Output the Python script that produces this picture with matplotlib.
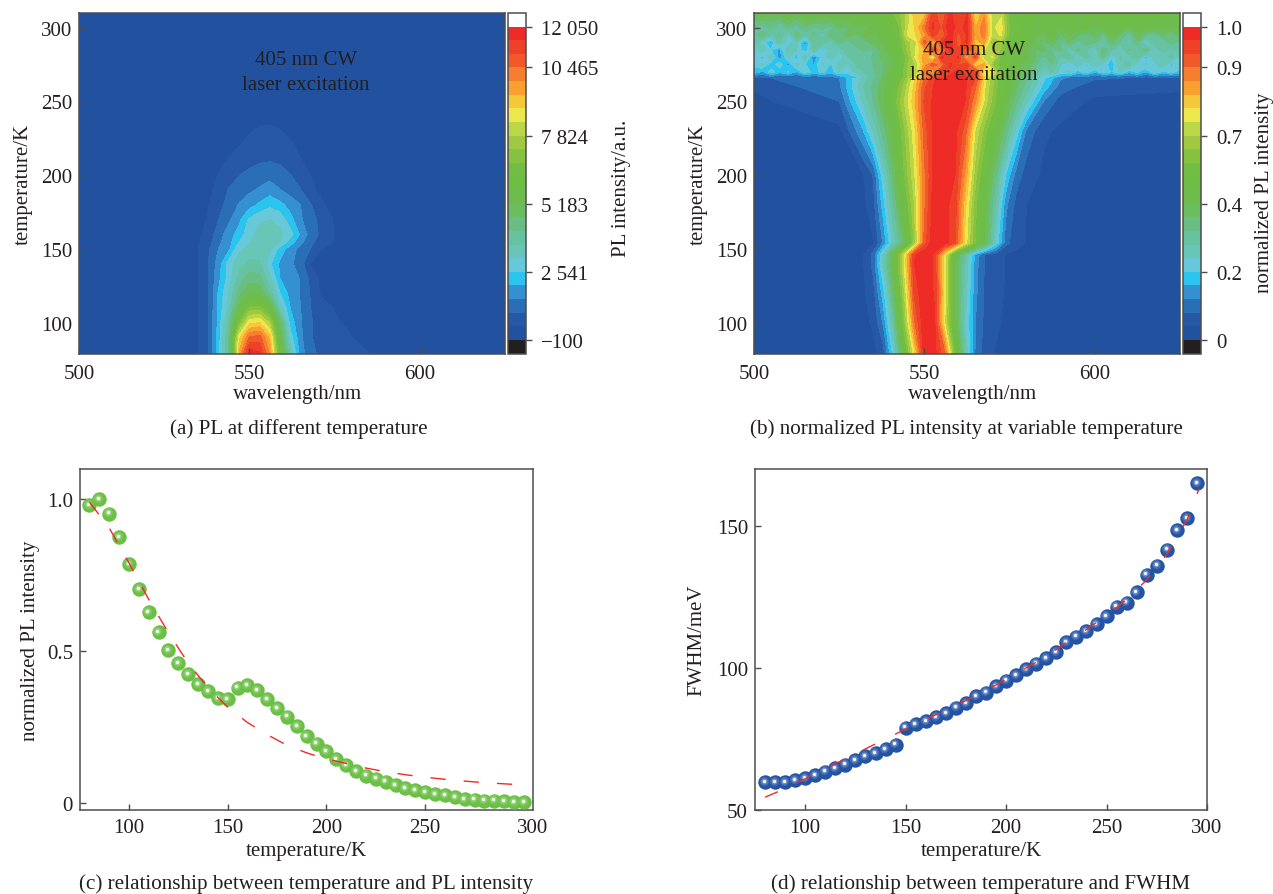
import numpy as np
import matplotlib
matplotlib.use('Agg')
import matplotlib.pyplot as plt
from matplotlib.transforms import offset_copy, ScaledTranslation

plt.rcParams['font.family'] = ['Liberation Serif', 'DejaVu Serif']
plt.rcParams['font.size'] = 15
plt.rcParams['text.color'] = '#231f20'
plt.rcParams['axes.labelcolor'] = '#231f20'
plt.rcParams['xtick.labelcolor'] = '#231f20'
plt.rcParams['ytick.labelcolor'] = '#231f20'

W, H = 1273, 895

# colour bands, bottom to top
band_colors = ['#22529f', '#2658a5', '#2a6fb5', '#3490d0', '#2ac4ee', '#66c8d8',
               '#67c6b8', '#66c2a0', '#69be83', '#6bbd60', '#6ebd4c', '#6ebd45',
               '#72bd44', '#84c240', '#a0c840', '#bbd647', '#ece84b', '#f5c83c',
               '#f9a02e', '#f57f2f', '#f2592a', '#ef4028', '#ee2b27']

# panel (a): PL intensity, rows = temperature, columns = wavelength
lam_a = [500, 530, 535, 538, 541, 544, 547, 550, 553, 556, 559, 562, 565, 568, 571, 575, 580, 590, 625]
temp_a = [79, 90, 100, 110, 120, 130, 140, 150, 155, 160, 170, 180, 190, 200, 210, 220, 230, 240, 310]
pl_a = [
    [100, 200, 428, 957, 2350, 4100, 9500, 11900, 11600, 9850, 6000, 3500, 1750, 1080, 850, 680, 510, 350, 200],
    [100, 200, 428, 957, 2300, 4200, 8700, 10500, 10700, 9200, 5400, 2800, 1600, 990, 800, 600, 430, 300, 180],
    [100, 200, 428, 957, 2200, 3900, 6800, 8700, 8900, 7700, 4800, 2300, 1550, 1000, 750, 480, 350, 250, 150],
    [100, 190, 428, 957, 2150, 3300, 5300, 6900, 7000, 5700, 3300, 2000, 1485, 957, 700, 400, 300, 220, 130],
    [90, 180, 428, 957, 2100, 3100, 4400, 5200, 5100, 3950, 2541, 1800, 1450, 900, 330, 350, 260, 200, 120],
    [80, 170, 400, 957, 1860, 2800, 3800, 4400, 4350, 3200, 2000, 1700, 1450, 800, 300, 250, 200, 170, 110],
    [70, 150, 400, 950, 1750, 2800, 3400, 3750, 3650, 2650, 1900, 1600, 1200, 400, 280, 220, 180, 150, 100],
    [60, 130, 428, 900, 1500, 1900, 2950, 3250, 3350, 3200, 2300, 1750, 1300, 940, 450, 260, 180, 140, 90],
    [55, 120, 380, 700, 1350, 1800, 2500, 3000, 3350, 3500, 3080, 2350, 1650, 1100, 700, 410, 180, 130, 85],
    [50, 110, 330, 600, 1250, 1750, 2230, 2900, 3300, 3610, 3200, 2750, 1900, 1250, 850, 410, 180, 120, 80],
    [40, 90, 250, 470, 957, 1380, 1880, 2620, 2950, 3080, 2900, 2200, 1550, 1150, 800, 360, 150, 100, 70],
    [35, 70, 180, 400, 800, 1120, 1530, 1800, 2100, 2400, 2150, 1800, 1485, 990, 500, 250, 120, 80, 60],
    [30, 60, 150, 300, 600, 1000, 1200, 1380, 1550, 1750, 1500, 1250, 970, 520, 330, 170, 90, 60, 50],
    [25, 50, 120, 250, 450, 680, 940, 1100, 1250, 1300, 1200, 980, 700, 420, 250, 130, 70, 50, 40],
    [20, 40, 90, 170, 300, 460, 620, 780, 880, 920, 850, 650, 440, 280, 170, 90, 50, 40, 30],
    [20, 30, 60, 110, 200, 310, 420, 530, 610, 650, 590, 480, 350, 200, 120, 60, 40, 30, 25],
    [15, 25, 45, 70, 130, 200, 290, 400, 470, 480, 440, 340, 230, 130, 80, 45, 30, 25, 20],
    [10, 20, 30, 50, 90, 140, 190, 250, 320, 350, 300, 240, 150, 90, 50, 30, 20, 15, 10],
    [0, 0, 5, 5, 10, 10, 15, 15, 20, 20, 20, 15, 15, 10, 10, 5, 5, 0, 0],
]
levels_a = [-100 + k * (12050 + 100) / 23 for k in range(24)]
ticks_a = [-100, 2541, 5183, 7824, 10465, 12050]
ticklabels_a = ['\u2212100', '2 541', '5 183', '7 824', '10 465', '12 050']

# panel (b): normalized PL, lower part (below about 267 K)
lam_b = [500, 525, 532, 535, 538, 541, 544, 547, 550, 553, 556, 559, 562, 565, 568, 571, 574, 577, 580, 585, 590, 600, 625]
temp_b = [79, 100, 120, 140, 146, 154, 180, 200, 230, 250, 260, 267]
norm_b = [
    [.01, .01, .015, .03, .07, .24, .489, .72, .985, .971, .874, .542, .30, .12, .06, .04, .03, .025, .02, .02, .015, .01, .01],
    [.01, .015, .03, .05, .14, .33, .587, .858, 1.0, .964, .693, .453, .26, .13, .07, .05, .035, .03, .025, .02, .015, .01, .01],
    [.01, .015, .035, .07, .20, .40, .64, .92, 1.0, .949, .72, .444, .28, .14, .075, .055, .04, .03, .025, .02, .015, .01, .01],
    [.015, .02, .04, .10, .28, .471, .693, .956, 1.0, .942, .711, .444, .30, .15, .075, .06, .04, .03, .025, .02, .015, .01, .01],
    [.015, .02, .04, .10, .27, .462, .684, .949, 1.0, .942, .72, .453, .31, .16, .08, .06, .04, .03, .025, .02, .015, .01, .01],
    [.015, .02, .025, .04, .14, .28, .40, .613, .889, 1.0, .978, .92, .72, .56, .418, .25, .10, .06, .04, .03, .02, .015, .01],
    [.015, .02, .03, .07, .20, .35, .507, .649, .858, 1.0, .971, .935, .751, .578, .444, .30, .14, .07, .043, .03, .02, .015, .01],
    [.015, .02, .04, .09, .25, .40, .56, .684, .858, .978, 1.0, .956, .812, .622, .489, .36, .21, .11, .065, .035, .025, .02, .015],
    [.02, .03, .17, .27, .37, .471, .596, .72, .889, .978, 1.0, .971, .889, .684, .578, .471, .37, .24, .12, .05, .035, .025, .02],
    [.03, .087, .27, .35, .43, .533, .649, .766, .92, .971, 1.0, .985, .956, .828, .667, .56, .453, .36, .27, .13, .065, .035, .03],
    [.05, .12, .30, .36, .42, .516, .622, .751, .905, .964, 1.0, .985, .964, .874, .684, .578, .48, .40, .33, .20, .11, .06, .05],
    [.08, .13, .28, .33, .40, .48, .578, .72, .858, .949, .978, .978, .964, .928, .711, .578, .489, .41, .36, .23, .14, .10, .08],
]

# panel (b): upper, noisy part, read on a finer wavelength step
lam_b_top = np.arange(500, 625.1, 2.5)
temp_b_top = [266, 270, 275, 280, 285, 290, 295, 300, 310]
norm_b_top = [
    [.09, .08, .10, .07, .09, .08, .10, .09, .10, .11, .13, .17, .21, .27, .33, .39, .46, .524, .605, .684, .812, .905, .949, .971, .978, .964, .928, .751, .631, .551, .49, .43, .36, .29, .23, .18, .14, .11, .10, .09, .10, .08, .09, .07, .08, .09, .07, .08, .09, .07, .08],
    [.20, .16, .24, .19, .22, .17, .25, .20, .23, .19, .26, .24, .27, .31, .34, .38, .44, .507, .613, .667, .858, .782, .956, .935, .978, .905, .949, .684, .72, .56, .52, .46, .40, .35, .27, .31, .24, .27, .20, .24, .18, .25, .21, .27, .19, .23, .17, .26, .20, .24, .19],
    [.23, .27, .18, .25, .15, .28, .22, .17, .27, .21, .29, .25, .31, .33, .35, .38, .42, .50, .60, .66, .80, .90, .84, .97, .91, .95, .72, .80, .60, .55, .54, .44, .42, .36, .30, .35, .26, .22, .28, .20, .30, .24, .19, .29, .33, .21, .27, .23, .31, .20, .26],
    [.26, .20, .29, .14, .27, .19, .31, .13, .24, .28, .23, .30, .33, .29, .36, .40, .43, .489, .578, .711, .812, .684, .978, .905, .964, .782, .928, .649, .702, .533, .56, .46, .44, .40, .33, .38, .29, .34, .24, .33, .27, .36, .22, .31, .28, .35, .19, .30, .25, .33, .24],
    [.24, .30, .22, .16, .31, .26, .18, .33, .20, .30, .27, .34, .31, .37, .34, .41, .46, .52, .62, .70, .78, .93, .82, .97, .92, .90, .84, .70, .66, .60, .50, .50, .43, .39, .41, .33, .37, .27, .36, .30, .25, .38, .31, .26, .36, .30, .39, .24, .34, .28, .35],
    [.31, .24, .17, .33, .21, .28, .15, .31, .34, .27, .36, .32, .39, .36, .42, .44, .47, .507, .631, .684, .905, .766, .949, 1.0, .874, .971, .751, .812, .596, .631, .52, .48, .47, .42, .38, .43, .34, .40, .32, .38, .36, .30, .40, .33, .29, .38, .22, .35, .31, .37, .33],
    [.33, .39, .29, .35, .25, .38, .31, .36, .28, .40, .35, .42, .38, .45, .41, .46, .49, .55, .70, .74, .80, .94, .86, .98, .90, .96, .80, .84, .68, .70, .55, .50, .50, .44, .42, .46, .38, .44, .40, .35, .42, .34, .44, .38, .32, .42, .36, .30, .40, .36, .42],
    [.35, .31, .37, .29, .36, .32, .38, .34, .37, .33, .40, .38, .43, .42, .46, .48, .50, .56, .684, .751, .858, .964, .905, .993, .928, .978, .782, .858, .684, .72, .56, .52, .50, .47, .45, .48, .44, .47, .45, .48, .43, .46, .44, .48, .42, .46, .44, .47, .45, .43, .46],
    [.44, .48, .42, .46, .49, .44, .47, .50, .45, .48, .46, .49, .47, .50, .48, .52, .54, .596, .667, .782, .751, .942, .858, .971, .905, .956, .711, .812, .667, .684, .542, .50, .52, .48, .50, .47, .51, .49, .46, .50, .48, .52, .47, .50, .49, .46, .51, .48, .50, .47, .49],
]
levels_b = [k / 23 for k in range(24)]
ticks_b = [0, 5 / 23, 10 / 23, 15 / 23, 20 / 23, 1]
ticklabels_b = ['0', '0.2', '0.4', '0.7', '0.9', '1.0']

# panel (c)
temp_c = np.arange(80, 301, 5)
pl_norm = [.98, 1.0, .952, .874, .787, .703, .628, .562, .504, .46, .424, .39, .367, .345, .343,
           .38, .389, .371, .343, .312, .284, .252, .22, .195, .17, .145, .125, .105, .09, .08,
           .07, .06, .05, .042, .036, .03, .025, .02, .014, .011, .008, .008, .006, .004, .004]
fit_c_x = [80, 90, 100, 110, 120, 130, 140, 150, 160, 170, 180, 190, 200, 210, 220, 230, 240, 250, 260, 270, 280, 298]
fit_c_y = [.99, .905, .79, .67, .56, .46, .38, .315, .265, .225, .19, .165, .145, .13, .115, .103, .093, .085, .078, .072, .067, .06]

# panel (d)
temp_d = np.arange(80, 296, 5)
fwhm = [59.8, 59.7, 59.9, 60.4, 61.3, 62.2, 63.5, 64.8, 66, 67.5, 69, 70, 71.3, 73, 79, 80.3, 81.3, 82.7,
        84, 86, 87.5, 90, 91.3, 93.5, 95.5, 97.5, 99.5, 101.5, 103.5, 105.5, 109, 111, 113, 115.5, 118.3,
        121.6, 123, 126.8, 132.8, 136, 141.6, 148.6, 152.8, 165]
fit_d_x = [80, 90, 100, 110, 120, 130, 140, 150, 160, 170, 180, 190, 200, 210, 220, 230, 240, 250, 260, 270, 280, 290, 296]
fit_d_y = [54.5, 57.5, 61, 64.5, 68, 71.5, 75, 78.5, 82, 85, 88.5, 92, 96, 100, 104, 109, 113.5, 118.5, 124, 131, 140, 152, 163]


def px_axes(fig, left, top, right, bottom):
    return fig.add_axes([left / W, 1 - bottom / H, (right - left) / W, (bottom - top) / H])


def style_axes(ax, pad):
    ax.tick_params(axis='x', direction='in', length=4, width=1.0, color='#4d4d4d', pad=pad)
    ax.tick_params(axis='y', direction='in', length=4, width=1.0, color='#4d4d4d', pad=5)
    for s in ax.spines.values():
        s.set_linewidth(1.1)
        s.set_color('#4d4d4d')


def draw_map(ax, cax, blocks, levels, ticks, ticklabels, cblabel, label_x, label_y):
    colors = ['#231f20'] + band_colors + ['#ffffff']
    for x, y, z in blocks:
        cf = ax.contourf(x, y, z, levels=levels, colors=colors, extend='both')
    ax.set_xlim(500, 625)
    ax.set_ylim(79, 310)
    ax.set_xticks([500, 550, 600])
    ax.set_yticks([100, 150, 200, 250, 300])
    ax.set_xlabel('wavelength/nm')
    ax.xaxis.set_label_coords(0.514, -0.091)
    ax.set_ylabel('temperature/K')
    ax.yaxis.set_label_coords(-0.109, 0.5)
    style_axes(ax, 7.5)
    cb = fig.colorbar(cf, cax=cax, extend='both', extendrect=True, extendfrac=1 / 23)
    cb.set_ticks(ticks)
    cb.set_ticklabels(ticklabels)
    cb.ax.tick_params(direction='out', length=4, width=1.0, color='#4d4d4d', pad=7)
    cb.ax.minorticks_off()
    cb.outline.set_linewidth(1.1)
    cb.outline.set_edgecolor('#4d4d4d')
    cb.set_label(cblabel)
    cax.yaxis.set_label_coords(label_x, label_y)


def draw_balls(ax, x, y, color, light):
    ax.scatter(x, y, s=108, color=color, linewidths=0, zorder=3)
    tr = offset_copy(ax.transData, fig=ax.figure, x=-0.9, y=0.9, units='points')
    ax.scatter(x, y, s=45, color=light, alpha=0.16, linewidths=0, zorder=4, transform=tr)
    ax.scatter(x, y, s=18, color=light, alpha=0.4, linewidths=0, zorder=4, transform=tr)
    ax.scatter(x, y, s=5, color='white', linewidths=0, zorder=5, transform=tr)


def draw_curve_axes(ax, ylabel, label_x):
    ax.set_xticks([100, 150, 200, 250, 300])
    ax.set_xlabel('temperature/K')
    ax.xaxis.set_label_coords(0.5, -0.092)
    ax.set_ylabel(ylabel)
    ax.yaxis.set_label_coords(label_x, 0.5)
    style_axes(ax, 6)


fig = plt.figure(figsize=(W / 100, H / 100), dpi=100)

# (a)
ax_a = px_axes(fig, 79, 14, 505, 354.5)
cax_a = px_axes(fig, 508, 14, 526, 354.5)
draw_map(ax_a, cax_a, [(lam_a, temp_a, pl_a)], levels_a, ticks_a, ticklabels_a, 'PL intensity/a.u.', 5.78, 0.487)
ax_a.text(566.6, 270, '405 nm CW\nlaser excitation', ha='center', va='center', linespacing=1.44)
fig.text(299 / W, 1 - 429 / H, '(a) PL at different temperature', ha='center', va='center', fontsize=15.25)

# (b)
ax_b = px_axes(fig, 754, 14, 1180, 354.5)
cax_b = px_axes(fig, 1183, 14, 1201, 354.5)
draw_map(ax_b, cax_b, [(lam_b, temp_b, norm_b), (lam_b_top, temp_b_top, norm_b_top)],
         levels_b, ticks_b, ticklabels_b, 'normalized PL intensity', 4.0, 0.472)
ax_b.text(564.5, 276.5, '405 nm CW\nlaser excitation', ha='center', va='center', linespacing=1.44, zorder=6)
fig.text(966 / W, 1 - 429 / H, '(b) normalized PL intensity at variable temperature', ha='center', va='center', fontsize=15.25)

# (c)
ax_c = px_axes(fig, 80, 470, 533, 811)
draw_balls(ax_c, temp_c, pl_norm, '#6abf45', '#d5efc6')
ax_c.plot(fit_c_x, fit_c_y, color='#ee2b27', lw=1.0, dashes=(11, 13), zorder=6)
ax_c.set_xlim(75.2, 304.6)
ax_c.set_ylim(-0.023, 1.099)
ax_c.set_yticks([0, 0.5, 1.0])
ax_c.set_yticklabels(['0', '0.5', '1.0'])
draw_curve_axes(ax_c, 'normalized PL intensity', -0.088)
# the 300 label sits at the frame corner in the original, not under its tick
label_300 = ax_c.get_xticklabels()[-1]
label_300.set_transform(label_300.get_transform() + ScaledTranslation(0.09, 0, fig.dpi_scale_trans))
fig.text(306 / W, 1 - 884 / H, '(c) relationship between temperature and PL intensity', ha='center', va='center', fontsize=15.25)

# (d)
ax_d = px_axes(fig, 755, 470, 1207, 811)
draw_balls(ax_d, temp_d, fwhm, '#2453a4', '#cdd9f2')
ax_d.plot(fit_d_x, fit_d_y, color='#ee2b27', lw=1.0, dashes=(10, 16), zorder=6)
ax_d.set_xlim(75, 300)
ax_d.set_ylim(50, 170)
ax_d.set_yticks([50, 100, 150])
draw_curve_axes(ax_d, 'FWHM/meV', -0.108)
fig.text(981 / W, 1 - 884 / H, '(d) relationship between temperature and FWHM', ha='center', va='center', fontsize=15.25)

fig.savefig('out.png', dpi=100)
